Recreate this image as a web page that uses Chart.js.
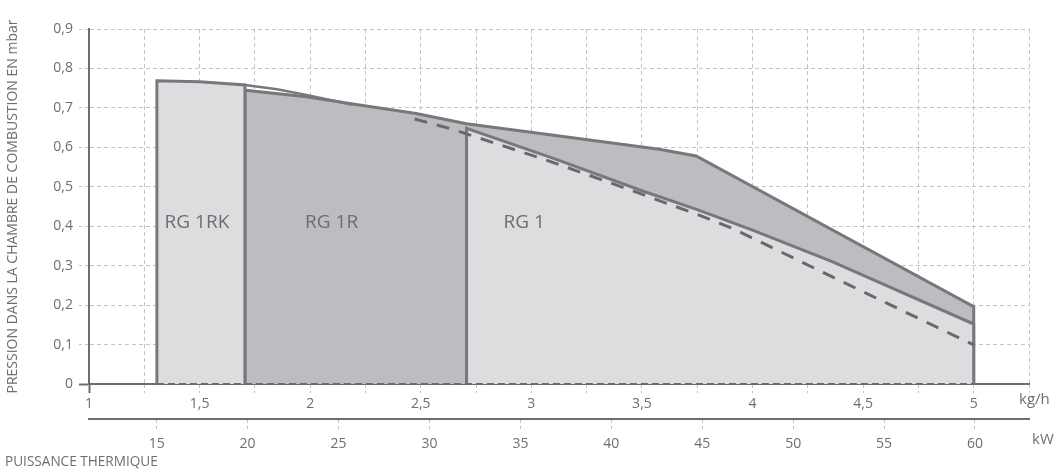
<!DOCTYPE html>
<html>
<head>
<meta charset="utf-8">
<script src="https://cdn.jsdelivr.net/npm/chart.js@4/dist/chart.umd.min.js"></script>
<style>
  html, body { margin: 0; padding: 0; background: #ffffff; }
  #wrap { width: 1057px; height: 476px; }
</style>
</head>
<body>
<div id="wrap"><canvas id="c" width="1057" height="476"></canvas></div>
<script>
// ---- data (kg/h on x, mbar on y) ----
const zoneNames = ['RG 1RK', 'RG 1R', 'RG 1'];

const rg1rkKgh  = [1.307, 1.307, 1.5,   1.705, 1.705];
const rg1rkMbar = [0,     0.769, 0.766, 0.758, 0];

const rg1rKgh  = [1.705, 1.705, 1.983, 2.193, 2.479, 2.707, 3.246, 3.578, 3.745, 5.0,   5.0];
const rg1rMbar = [0,     0.745, 0.728, 0.710, 0.686, 0.660, 0.620, 0.595, 0.578, 0.196, 0];

const envelopeKgh  = [1.705, 1.85,  1.983, 2.193];
const envelopeMbar = [0.758, 0.747, 0.733, 0.708];

const rg1Kgh  = [2.707, 2.707, 3.1,   3.5,  3.75,  4.0,  4.36, 5.0,   5.0];
const rg1Mbar = [0,     0.648, 0.572, 0.49, 0.442, 0.39, 0.31, 0.152, 0];

const dashedKgh  = [2.472, 2.643, 3.066, 3.427, 3.759, 3.908, 4.359, 5.0];
const dashedMbar = [0.672, 0.646, 0.568, 0.496, 0.428, 0.395, 0.272, 0.099];

const baseKgh  = [1.307, 5.0];
const baseMbar = [0, 0];

const yTicks = [0, 0.1, 0.2, 0.3, 0.4, 0.5, 0.6, 0.7, 0.8, 0.9];
const kghLabelTicks = [1, 1.5, 2, 2.5, 3, 3.5, 4, 4.5, 5];
const kwLabelTicks = [15, 20, 25, 30, 35, 40, 45, 50, 55, 60];

// ---- styles ----
const TXT = '#6d6e71';
const AXIS = '#6d6e71';
const GRID = '#c4c4c4';
const EDGE = '#77787b';
const LIGHT = '#dcdddf';
const DARK = '#bcbdc0';
const FONT = '"Open Sans", "Noto Sans", sans-serif';

const pts = (xs, ys) => xs.map((v, i) => ({ x: v, y: ys[i] }));
const comma = v => String(+v.toFixed(2)).replace('.', ',');
const has = (arr, v) => arr.some(a => Math.abs(a - v) < 1e-6);

const textPlugin = {
  id: 'texts',
  afterDraw(chart) {
    const { ctx } = chart;
    const x = chart.scales.x, y = chart.scales.y, kw = chart.scales.kw;
    ctx.save();
    ctx.fillStyle = TXT;
    ctx.textBaseline = 'middle';
    ctx.textAlign = 'center';
    ctx.font = '19px ' + FONT;
    const anchors = [[1.488, 0.408], [2.097, 0.408], [2.968, 0.408]];
    zoneNames.forEach((t, i) => {
      ctx.fillText(t, x.getPixelForValue(anchors[i][0]), y.getPixelForValue(anchors[i][1]));
    });
    ctx.textAlign = 'left';
    ctx.font = '15px ' + FONT;
    ctx.fillText('kg/h', x.right - 10, x.top + 16);
    ctx.fillText('kW', kw.right + 3, kw.top + 21);
    ctx.font = '13.6px ' + FONT;
    ctx.fillText('PUISSANCE THERMIQUE', 5, 462);
    ctx.restore();
  }
};

new Chart(document.getElementById('c'), {
  type: 'line',
  data: {
    datasets: [
      { data: pts(baseKgh, baseMbar), borderColor: '#6a6b6e', borderWidth: 2, borderDash: [7, 4], fill: false, order: 0, clip: false },
      { data: pts(dashedKgh, dashedMbar), borderColor: '#68696c', borderWidth: 3, borderDash: [13, 10], fill: false, order: 1 },
      { data: pts(envelopeKgh, envelopeMbar), borderColor: EDGE, borderWidth: 2.5, fill: false, order: 2 },
      { data: pts(rg1Kgh, rg1Mbar), borderColor: EDGE, borderWidth: 3, backgroundColor: LIGHT, fill: 'origin', order: 3 },
      { data: pts(rg1rkKgh, rg1rkMbar), borderColor: EDGE, borderWidth: 3, backgroundColor: LIGHT, fill: 'origin', order: 4 },
      { data: pts(rg1rKgh, rg1rMbar), borderColor: EDGE, borderWidth: 3, backgroundColor: DARK, fill: 'origin', order: 5 }
    ]
  },
  options: {
    responsive: false,
    animation: false,
    events: [],
    layout: { padding: { top: 29, right: 28, left: 0, bottom: 0 } },
    elements: { point: { radius: 0 }, line: { tension: 0, borderJoinStyle: 'miter' } },
    plugins: { legend: { display: false }, tooltip: { enabled: false } },
    scales: {
      x: {
        type: 'linear', position: 'bottom', weight: 0,
        min: 1, max: 5.25,
        afterFit: s => { s.height = 35; },
        afterBuildTicks: s => { s.ticks = []; for (let v = 1; v <= 5.2501; v += 0.25) s.ticks.push({ value: +v.toFixed(2) }); },
        ticks: {
          autoSkip: false, maxRotation: 0, padding: 3, color: TXT,
          font: { family: FONT, size: 14 },
          callback: v => has(kghLabelTicks, v) ? comma(v) : ''
        },
        grid: {
          color: GRID, lineWidth: 1, tickLength: 9,
          tickColor: c => c.tick && Math.abs(c.tick.value - 1) < 1e-6 ? AXIS : GRID,
          tickWidth: c => c.tick && Math.abs(c.tick.value - 1) < 1e-6 ? 2 : 1,
          tickBorderDash: c => c.tick && Math.abs(c.tick.value - 1) < 1e-6 ? [] : [3, 3]
        },
        border: { display: true, color: AXIS, width: 2, dash: [4, 3] }
      },
      kw: {
        type: 'linear', position: 'bottom', weight: 1,
        min: 11.277, max: 62.97,
        afterFit: s => { s.height = 57; },
        afterBuildTicks: s => { s.ticks = kwLabelTicks.map(v => ({ value: v })); },
        ticks: {
          autoSkip: false, maxRotation: 0, padding: 5, color: TXT,
          font: { family: FONT, size: 14 },
          callback: v => String(v)
        },
        grid: {
          drawOnChartArea: false, drawTicks: true, tickLength: 12,
          tickColor: GRID, tickWidth: 1, tickBorderDash: [3, 3]
        },
        border: { display: true, color: AXIS, width: 2 }
      },
      y: {
        type: 'linear', position: 'left',
        min: 0, max: 0.9,
        afterFit: s => { s.width = 89; },
        afterBuildTicks: s => { s.ticks = yTicks.map(v => ({ value: v })); },
        ticks: {
          padding: 6, color: TXT,
          font: { family: FONT, size: 14 },
          callback: v => v === 0 ? '0' : comma(v)
        },
        grid: {
          color: GRID, lineWidth: 1, tickLength: 10,
          tickColor: c => c.tick && c.tick.value === 0 ? AXIS : GRID,
          tickWidth: c => c.tick && c.tick.value === 0 ? 2 : 1,
          tickBorderDash: c => c.tick && c.tick.value === 0 ? [] : [3, 3]
        },
        border: { display: true, color: AXIS, width: 2, dash: [4, 3] },
        title: {
          display: true,
          text: 'PRESSION DANS LA CHAMBRE DE COMBUSTION EN mbar',
          color: TXT,
          font: { family: FONT, size: 14 },
          padding: { top: 5, bottom: 0 }
        }
      }
    }
  },
  plugins: [textPlugin]
});
</script>
</body>
</html>
